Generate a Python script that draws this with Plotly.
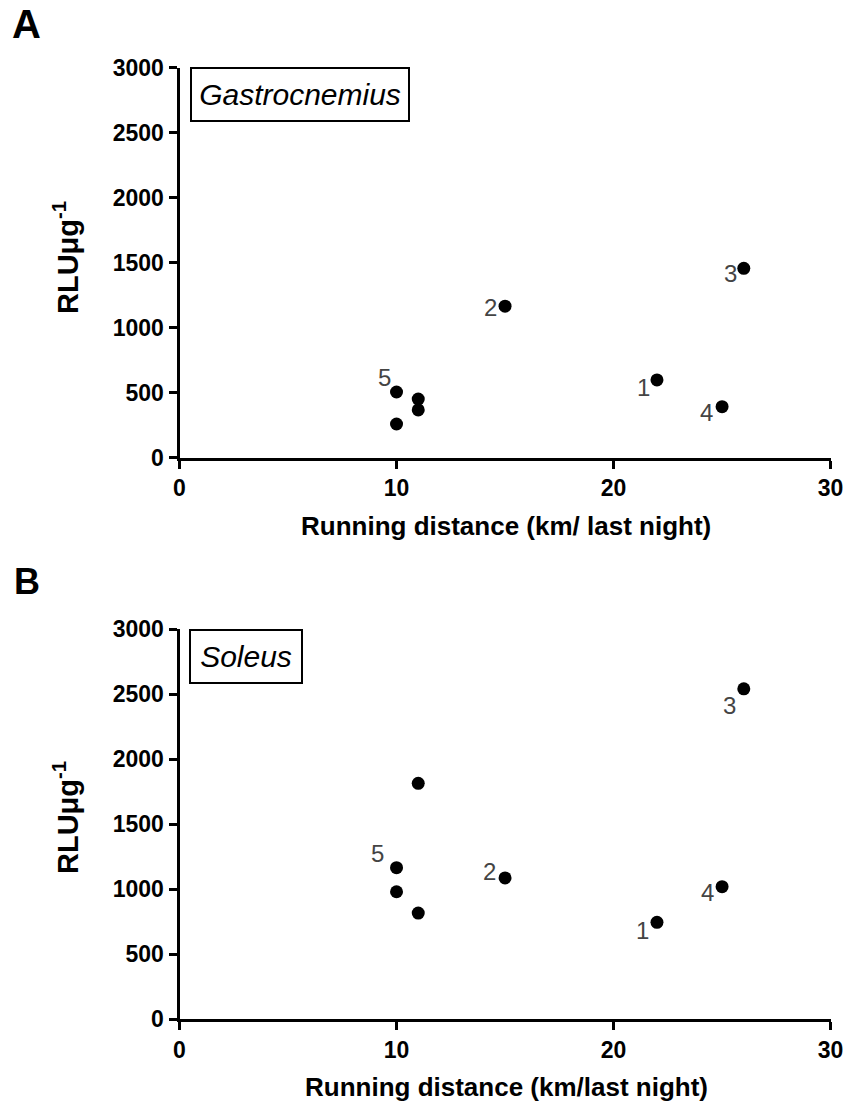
import plotly.graph_objects as go

# ---- data ----
distance_km = [22, 15, 26, 25, 10, 10, 11, 11]
gastrocnemius_rlu = [598, 1165, 1456, 392, 505, 259, 451, 367]
soleus_rlu = [744, 1085, 2540, 1018, 1164, 979, 1813, 815]
point_labels = ["1", "2", "3", "4", "5", "", "", ""]
x_tick_values = [0, 10, 20, 30]
y_tick_values = [0, 500, 1000, 1500, 2000, 2500, 3000]
panel_letters = ["A", "B"]
muscle_names = ["Gastrocnemius", "Soleus"]
x_titles = ["Running distance (km/ last night)", "Running distance (km/last night)"]
y_title = "RLU\u03bcg<sup>-1</sup>"

# ---- styling (screen offsets of point labels, px: right, down) ----
offsets_A = [(-13, 8), (-15, 1), (-13, 5), (-16, 6), (-12, -15)]
offsets_B = [(-14, 8), (-16, -6), (-14, 17), (-15, 6), (-19, -14)]

W, H = 848, 1108
FONT = "Liberation Sans, Arial, sans-serif"

def px(v):
    return v / W

def py(v):
    return 1 - v / H

x_dom = [px(179.5), px(830.6)]
y_dom_A = [py(457.7), py(67.5)]
y_dom_B = [py(1019), py(629)]

fig = go.Figure()

for data, xa, ya in [(gastrocnemius_rlu, "x", "y"), (soleus_rlu, "x2", "y2")]:
    fig.add_trace(go.Scatter(
        x=distance_km, y=data, mode="markers", xaxis=xa, yaxis=ya,
        marker=dict(color="black", size=13, line=dict(width=0)),
        showlegend=False, cliponaxis=False,
    ))

axis_common = dict(
    showline=True, linecolor="black", linewidth=3,
    ticks="outside", ticklen=8, tickwidth=3, tickcolor="black",
    showgrid=False, zeroline=False, automargin=False,
    tickfont=dict(family=FONT, size=23, color="black", weight="bold"),
)

fig.update_layout(
    width=W, height=H, margin=dict(l=0, r=0, t=0, b=0, pad=0, autoexpand=False),
    paper_bgcolor="white", plot_bgcolor="white",
    xaxis=dict(domain=x_dom, range=[0, 30], tickvals=x_tick_values, anchor="y", **axis_common),
    yaxis=dict(domain=y_dom_A, range=[0, 3000], tickvals=y_tick_values, anchor="x", **axis_common),
    xaxis2=dict(domain=x_dom, range=[0, 30], tickvals=x_tick_values, anchor="y2", **axis_common),
    yaxis2=dict(domain=y_dom_B, range=[0, 3000], tickvals=y_tick_values, anchor="x2", **axis_common),
)

ann = []
for data, offs, xr, yr in [(gastrocnemius_rlu, offsets_A, "x", "y"), (soleus_rlu, offsets_B, "x2", "y2")]:
    for i, lab in enumerate(point_labels):
        if not lab:
            continue
        dx, dy = offs[i]
        ann.append(dict(
            x=distance_km[i], y=data[i], xref=xr, yref=yr, text=lab,
            showarrow=False, xshift=dx, yshift=-dy,
            font=dict(family=FONT, size=24, color="#444444"),
        ))

ann.append(dict(x=px(10), y=py(0), xref="paper", yref="paper", text=panel_letters[0],
                showarrow=False, xanchor="left", yanchor="top",
                font=dict(family=FONT, size=40, color="black", weight="bold")))
ann.append(dict(x=px(12), y=py(559), xref="paper", yref="paper", text=panel_letters[1],
                showarrow=False, xanchor="left", yanchor="top",
                font=dict(family=FONT, size=36, color="black", weight="bold")))

ann.append(dict(x=px(190), y=py(67.5), xref="paper", yref="paper",
                text="<i>" + muscle_names[0] + "</i>", showarrow=False,
                xanchor="left", yanchor="top", width=208, height=43, borderpad=4,
                bordercolor="black", borderwidth=2, bgcolor="white",
                font=dict(family=FONT, size=30, color="black")))
ann.append(dict(x=px(189), y=py(629), xref="paper", yref="paper",
                text="<i>" + muscle_names[1] + "</i>", showarrow=False,
                xanchor="left", yanchor="top", width=102, height=43, borderpad=4,
                bordercolor="black", borderwidth=2, bgcolor="white",
                font=dict(family=FONT, size=30, color="black")))

for yc, xt in [(526, x_titles[0]), (1087, x_titles[1])]:
    ann.append(dict(x=px(506), y=py(yc), xref="paper", yref="paper", text=xt,
                    showarrow=False, xanchor="center", yanchor="middle",
                    font=dict(family=FONT, size=26, color="black", weight="bold")))
for yc in [258, 818]:
    ann.append(dict(x=px(66), y=py(yc), xref="paper", yref="paper",
                    text=y_title, textangle=-90,
                    showarrow=False, xanchor="center", yanchor="middle",
                    font=dict(family=FONT, size=29, color="black", weight="bold")))

fig.update_layout(annotations=ann)
fig.write_html("out.html")
